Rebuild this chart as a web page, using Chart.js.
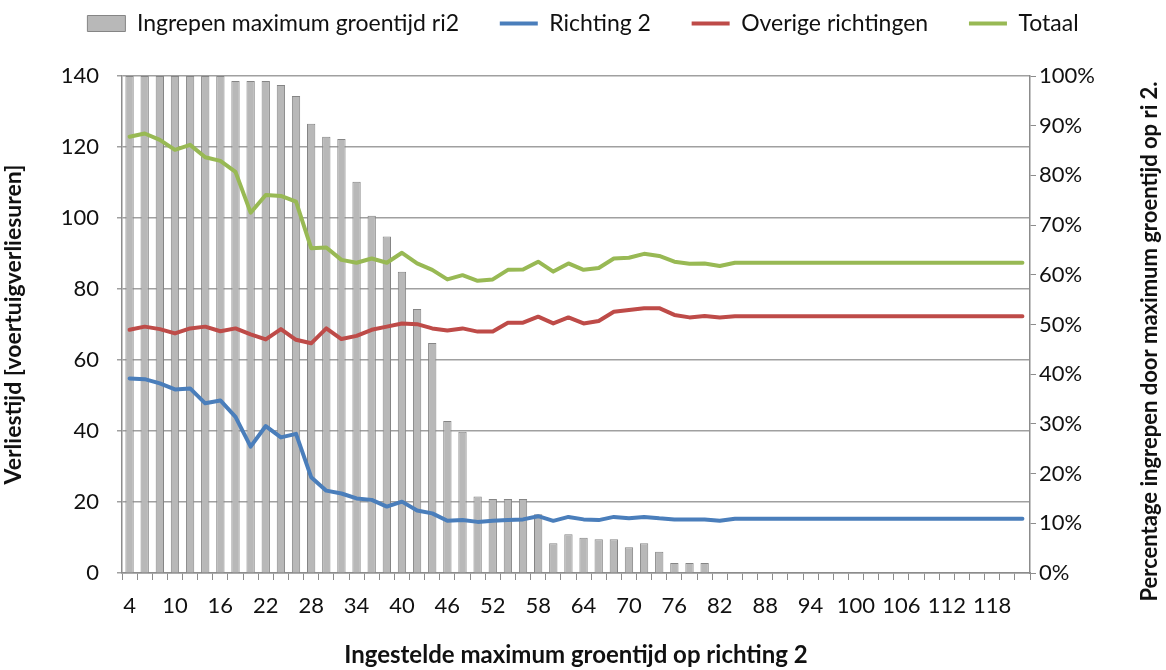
<!DOCTYPE html>
<html>
<head>
<meta charset="utf-8">
<script src="https://cdn.jsdelivr.net/npm/chart.js@4.4.1/dist/chart.umd.min.js"></script>
<style>
  html, body { margin: 0; padding: 0; background: #fff; }
  #wrap { width: 1166px; height: 670px; }
</style>
</head>
<body>
<div id="wrap"><canvas id="grafiek"></canvas></div>
<script>
// ingestelde maximum groentijd op richting 2 (s)
const groentijden = [4, 6, 8, 10, 12, 14, 16, 18, 20, 22, 24, 26, 28, 30, 32, 34, 36, 38, 40, 42,
  44, 46, 48, 50, 52, 54, 56, 58, 60, 62, 64, 66, 68, 70, 72, 74, 76, 78, 80, 82,
  84, 86, 88, 90, 92, 94, 96, 98, 100, 102, 104, 106, 108, 110, 112, 114, 116, 118, 120, 122];

// percentage ingrepen (rechter as)
const ingrepen = [100, 100, 100, 100, 100, 100, 100, 99, 99, 99, 98.2, 96, 90.4, 87.8, 87.3, 78.7, 71.9, 67.7, 60.6, 53.1,
  46.3, 30.6, 28.4, 15.4, 14.9, 14.9, 14.9, 11.8, 6.0, 7.8, 7.1, 6.8, 6.8, 5.2, 6.0, 4.3, 2.0, 2.0, 2.0, 0,
  0, 0, 0, 0, 0, 0, 0, 0, 0, 0, 0, 0, 0, 0, 0, 0, 0, 0, 0, 0];

// verliestijd [voertuigverliesuren] (linker as)
const richting2 = [54.8, 54.6, 53.4, 51.7, 52.0, 47.8, 48.6, 44.0, 35.6, 41.4, 38.2, 39.2, 27.0, 23.2, 22.4, 21.0, 20.6, 18.7, 20.1, 17.6,
  16.8, 14.7, 14.9, 14.4, 14.7, 14.9, 15.1, 16.0, 14.7, 15.8, 15.1, 14.9, 15.8, 15.4, 15.8, 15.4, 15.1, 15.1, 15.1, 14.7,
  15.3, 15.3, 15.3, 15.3, 15.3, 15.3, 15.3, 15.3, 15.3, 15.3, 15.3, 15.3, 15.3, 15.3, 15.3, 15.3, 15.3, 15.3, 15.3, 15.3];
const overige = [68.5, 69.4, 68.7, 67.5, 68.9, 69.4, 68.1, 68.9, 67.2, 65.8, 68.7, 65.7, 64.7, 68.9, 65.9, 66.8, 68.5, 69.4, 70.3, 70.1,
  68.9, 68.3, 68.9, 68.0, 68.0, 70.5, 70.5, 72.2, 70.3, 72.0, 70.3, 71.0, 73.6, 74.1, 74.6, 74.6, 72.7, 72.0, 72.4, 72.0,
  72.3, 72.3, 72.3, 72.3, 72.3, 72.3, 72.3, 72.3, 72.3, 72.3, 72.3, 72.3, 72.3, 72.3, 72.3, 72.3, 72.3, 72.3, 72.3, 72.3];
const totaal = [122.9, 123.8, 122.0, 119.2, 120.6, 117.1, 116.1, 113.0, 101.5, 106.5, 106.2, 104.6, 91.5, 91.7, 88.2, 87.4, 88.6, 87.4, 90.2, 87.2,
  85.4, 82.7, 83.9, 82.3, 82.7, 85.4, 85.5, 87.7, 84.9, 87.2, 85.4, 85.9, 88.6, 88.8, 89.9, 89.3, 87.7, 87.1, 87.2, 86.5,
  87.4, 87.4, 87.4, 87.4, 87.4, 87.4, 87.4, 87.4, 87.4, 87.4, 87.4, 87.4, 87.4, 87.4, 87.4, 87.4, 87.4, 87.4, 87.4, 87.4];

const FONT = 'Lato, "Open Sans", sans-serif';
const rasterKleur = '#a0a0a0';
const asKleur = '#8c8c8c';

// titel van de rechter as, van onder naar boven gelezen
const rechterTitel = {
  id: 'rechterTitel',
  afterDraw(chart) {
    const ctx = chart.ctx;
    const area = chart.chartArea;
    ctx.save();
    ctx.translate(chart.scales.y1.right - 16, (area.top + area.bottom) / 2 + 17);
    ctx.rotate(-Math.PI / 2);
    ctx.font = 'bold 22px ' + FONT;
    ctx.fillStyle = '#111';
    ctx.textAlign = 'center';
    ctx.textBaseline = 'middle';
    ctx.fillText('Percentage ingrepen door maximum groentijd op ri 2.', 0, 0);
    ctx.restore();
  }
};

// hoogte legenda vast zodat het plotvlak op de juiste plek begint
const legendaHoogte = {
  id: 'legendaHoogte',
  beforeInit(chart) {
    const fit = chart.legend.fit;
    chart.legend.fit = function () {
      fit.bind(chart.legend)();
      this.height = 76;
    };
  }
};

const ctx = document.getElementById('grafiek').getContext('2d');

const grafiek = new Chart(ctx, {
  type: 'bar',
  data: {
    labels: groentijden,
    datasets: [{
      label: 'Ingrepen maximum groentijd ri2',
      data: ingrepen,
      yAxisID: 'y1',
      backgroundColor: '#b8b8b8',
      borderColor: '#858585',
      borderWidth: c => (c.raw > 0 ? 1 : 0),
      barPercentage: 0.55,
      categoryPercentage: 1,
      order: 2
    }, {
      type: 'line',
      label: 'Richting 2',
      data: richting2,
      yAxisID: 'y',
      borderColor: '#4a7ebb',
      backgroundColor: '#4a7ebb',
      borderWidth: 4,
      pointRadius: 0,
      pointStyle: 'line',
      borderJoinStyle: 'round',
      borderCapStyle: 'round',
      tension: 0,
      order: 1
    }, {
      type: 'line',
      label: 'Overige richtingen',
      data: overige,
      yAxisID: 'y',
      borderColor: '#be4b48',
      backgroundColor: '#be4b48',
      borderWidth: 4,
      pointRadius: 0,
      pointStyle: 'line',
      borderJoinStyle: 'round',
      borderCapStyle: 'round',
      tension: 0,
      order: 1
    }, {
      type: 'line',
      label: 'Totaal',
      data: totaal,
      yAxisID: 'y',
      borderColor: '#98b954',
      backgroundColor: '#98b954',
      borderWidth: 4,
      pointRadius: 0,
      pointStyle: 'line',
      borderJoinStyle: 'round',
      borderCapStyle: 'round',
      tension: 0,
      order: 1
    }]
  },
  options: {
    responsive: true,
    maintainAspectRatio: false,
    animation: false,
    layout: { padding: 0 },
    plugins: {
      tooltip: { enabled: false },
      legend: {
        position: 'top',
        labels: {
          usePointStyle: true,
          pointStyleWidth: 38,
          boxHeight: 16,
          padding: 12,
          color: '#111',
          font: { family: FONT, size: 23 },
          sort: (a, b) => a.datasetIndex - b.datasetIndex,
          generateLabels(chart) {
            const items = Chart.defaults.plugins.legend.labels.generateLabels(chart);
            const laatste = chart.data.datasets.length - 1;
            items.forEach(it => {
              const ds = chart.data.datasets[it.datasetIndex];
              if (ds.type === 'line') {
                it.pointStyle = 'line';
                it.strokeStyle = ds.borderColor;
                it.lineWidth = 4;
              } else {
                it.pointStyle = 'rect';
                it.lineWidth = 1;
              }
              if (it.datasetIndex !== laatste) it.text = it.text + '\u2003\u2002';
            });
            return items;
          }
        }
      }
    },
    scales: {
      x: {
        offset: true,
        grid: {
          display: true,
          offset: true,
          drawOnChartArea: false,
          drawTicks: true,
          tickLength: 7,
          color: asKleur
        },
        border: { display: true, color: asKleur, width: 1.5 },
        ticks: {
          autoSkip: false,
          maxRotation: 0,
          padding: 13,
          color: '#111',
          font: { family: FONT, size: 22 },
          callback(v, i) { return i % 3 === 0 ? groentijden[i] : ''; }
        },
        title: {
          display: true,
          text: 'Ingestelde maximum groentijd op richting 2',
          color: '#111',
          font: { family: FONT, size: 24, weight: 'bold' },
          padding: { top: 0, bottom: 0 }
        },
        afterFit(scale) { scale.height = 97; }
      },
      y: {
        position: 'left',
        min: 0,
        max: 140,
        grid: { color: rasterKleur, lineWidth: 1.5, tickLength: 5 },
        border: { display: true, color: asKleur, width: 1.5 },
        ticks: {
          stepSize: 20,
          padding: 18,
          color: '#111',
          font: { family: FONT, size: 22 }
        },
        title: {
          display: true,
          text: 'Verliestijd [voertuigverliesuren]',
          color: '#111',
          font: { family: FONT, size: 23, weight: 'bold' },
          padding: { top: 0, bottom: 4 }
        },
        afterFit(scale) { scale.width = 122; }
      },
      y1: {
        position: 'right',
        min: 0,
        max: 100,
        grid: { drawOnChartArea: false, drawTicks: true, tickLength: 6, color: asKleur },
        border: { display: true, color: asKleur, width: 1.5 },
        ticks: {
          stepSize: 10,
          padding: 3,
          color: '#111',
          font: { family: FONT, size: 22 },
          callback: v => v + '%'
        },
        afterFit(scale) { scale.width = 136; }
      }
    }
  },
  plugins: [legendaHoogte, rechterTitel]
});
</script>
</body>
</html>
